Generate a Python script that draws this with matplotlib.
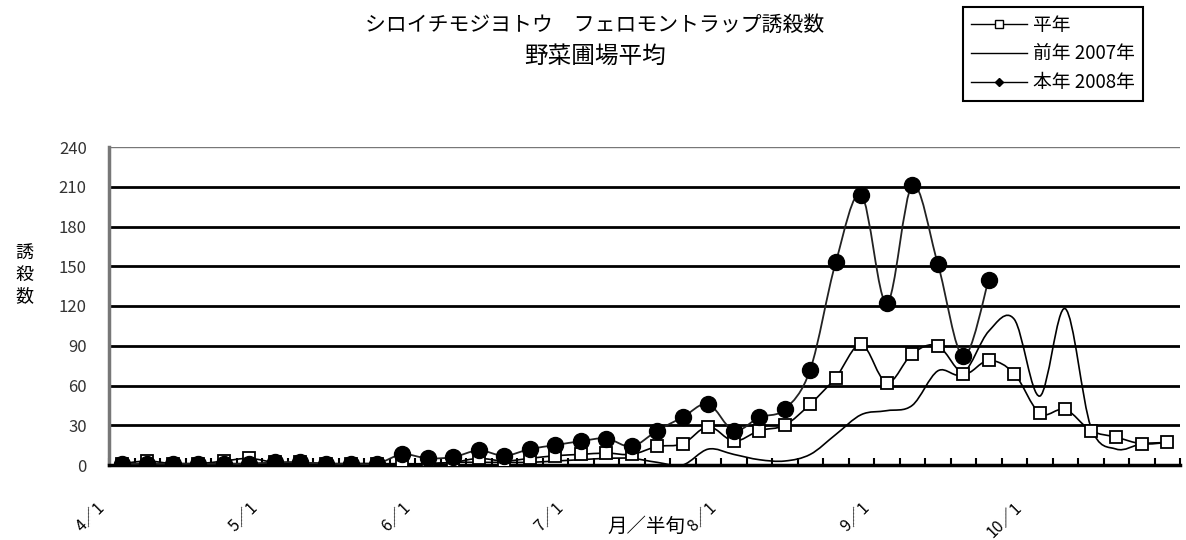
import numpy as np
import matplotlib
matplotlib.use('Agg')
import matplotlib.pyplot as plt
from matplotlib.path import Path
from matplotlib.patches import PathPatch
from matplotlib.lines import Line2D
from matplotlib.transforms import ScaledTranslation

plt.rcParams['font.family'] = ['Noto Sans CJK JP', 'DejaVu Sans']

# 半旬 (5-day periods) from 4/1 to the end of October, 6 per month
month_labels = ['4／1', '5／1', '6／1', '7／1', '8／1', '9／1', '10／1']
month_index = [0, 6, 12, 18, 24, 30, 36]

# 平年 (average year)
avg_year = [1, 3, 1, 1, 3, 5, 2, 2, 1, 1, 1, 0, 1, 2, 5, 3, 5, 7, 8, 9, 8,
            14, 16, 29, 18, 26, 30, 46, 66, 91, 62, 84, 90, 69, 79, 69, 39,
            42, 26, 21, 16, 17]
# 前年 2007年
prev_year = [1, 1, 1, 1, 1, 1, 1, 1, 1, 1, 1, 1, 1, 2, 2, 2, 2, 3, 4, 5, 5,
             2, 0, 12, 8, 4, 3, 8, 23, 38, 41, 45, 71, 69, 101, 110, 52,
             118, 29, 12, 16, 17]
# 本年 2008年 (data up to mid-September)
this_year = [1, 1, 1, 1, 1, 1, 2, 2, 1, 1, 1, 8, 5, 6, 11, 7, 12, 15, 18, 20,
             14, 26, 36, 46, 26, 36, 42, 72, 153, 204, 122, 211, 152, 82, 140]

y_ticks = [0, 30, 60, 90, 120, 150, 180, 210, 240]


def smooth_path(xs, ys):
    # bezier curve through every point, like a spreadsheet "smoothed line"
    n = len(xs)
    verts = [(xs[0], ys[0])]
    codes = [Path.MOVETO]
    for i in range(n - 1):
        a = i - 1 if i > 0 else i
        d = i + 2 if i + 2 < n else i + 1
        c1 = (xs[i] + (xs[i + 1] - xs[a]) / 6, ys[i] + (ys[i + 1] - ys[a]) / 6)
        c2 = (xs[i + 1] - (xs[d] - xs[i]) / 6, ys[i + 1] - (ys[d] - ys[i]) / 6)
        verts += [c1, c2, (xs[i + 1], ys[i + 1])]
        codes += [Path.CURVE4] * 3
    return Path(verts, codes)


W, H = 1186, 540
fig = plt.figure(figsize=(W / 100, H / 100), dpi=100)
ax = fig.add_axes([109 / W, 1 - 465 / H, (1180 - 109) / W, (465 - 147) / H])

x_avg = np.arange(len(avg_year))
x_prev = np.arange(len(prev_year))
x_this = np.arange(len(this_year))

ax.add_patch(PathPatch(smooth_path(x_avg, avg_year), fill=False,
                       edgecolor='black', linewidth=1.2, zorder=3))
ax.plot(x_avg, avg_year, linestyle='none', marker='s', markersize=9,
        markerfacecolor='white', markeredgecolor='black',
        markeredgewidth=1.3, zorder=4)

ax.add_patch(PathPatch(smooth_path(x_prev, prev_year), fill=False,
                       edgecolor='black', linewidth=1.2, zorder=3))

ax.add_patch(PathPatch(smooth_path(x_this, this_year), fill=False,
                       edgecolor='#222222', linewidth=1.3, zorder=5))
ax.plot(x_this, this_year, linestyle='none', marker='o', markersize=11.5,
        markerfacecolor='black', markeredgecolor='black', zorder=6)

ax.set_xlim(-0.5, 41.5)
ax.set_ylim(0, 240)

# y axis
ax.set_yticks(y_ticks)
ax.set_yticklabels([str(v) for v in y_ticks])
ax.tick_params(axis='y', length=0, pad=16, labelsize=12, labelcolor='#333333')
ax.yaxis.grid(True, color='black', linewidth=2)
for val, gl in zip(y_ticks, ax.get_ygridlines()):
    if val == 240:
        gl.set_color('#777777')
        gl.set_linewidth(1)

# x axis: tick marks between periods, month labels under the first period
ax.set_xticks(np.arange(-0.5, 42, 1))
ax.set_xticklabels([])
ax.tick_params(axis='x', which='major', direction='in', length=5, width=1.5)
ax.set_xticks(month_index, minor=True)
ax.set_xticklabels(month_labels, minor=True, rotation=45, ha='right',
                   va='center', rotation_mode='anchor')
ax.tick_params(axis='x', which='minor', length=0, pad=29, labelsize=11.5)
shift = ScaledTranslation(-0.2, 0, fig.dpi_scale_trans)
for lbl in ax.get_xticklabels(minor=True):
    lbl.set_transform(lbl.get_transform() + shift)

for side in ['top', 'right']:
    ax.spines[side].set_visible(False)
ax.spines['left'].set_color('#777777')
ax.spines['left'].set_linewidth(2.5)
ax.spines['bottom'].set_color('black')
ax.spines['bottom'].set_linewidth(2.5)
ax.set_axisbelow(True)

# titles and axis names
fig.text(595 / W, 1 - 25 / H, 'シロイチモジヨトウ　フェロモントラップ誘殺数',
         ha='center', va='center', fontsize=15)
fig.text(595 / W, 1 - 56 / H, '野菜圃場平均', ha='center', va='center',
         fontsize=17)
fig.text(24 / W, 1 - 275 / H, '誘\n殺\n数', ha='center', va='center',
         fontsize=13, linespacing=1.2)
fig.text(646 / W, 1 - 526 / H, '月／半旬', ha='center', va='center',
         fontsize=14)

handles = [
    Line2D([], [], color='black', linewidth=1, marker='s', markersize=6,
           markerfacecolor='white', markeredgecolor='black'),
    Line2D([], [], color='black', linewidth=1),
    Line2D([], [], color='black', linewidth=1, marker='D', markersize=4.5,
           markerfacecolor='black'),
]
leg = fig.legend(handles, ['平年', '前年 2007年', '本年 2008年'],
                 loc='upper left', bbox_to_anchor=(963 / W, 1 - 7 / H),
                 fancybox=False, edgecolor='black', framealpha=1,
                 fontsize=13.5, handlelength=3.0, handletextpad=0.35,
                 labelspacing=0.42, borderpad=0.4, borderaxespad=0)
leg.get_frame().set_linewidth(1.5)

fig.savefig('out.png', dpi=100)
